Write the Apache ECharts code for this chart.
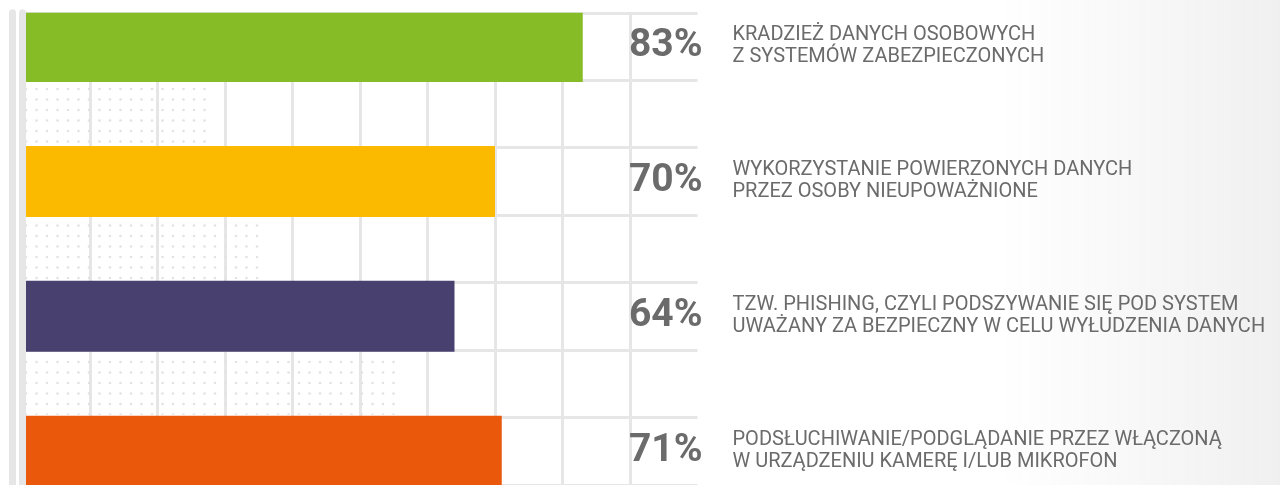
<!DOCTYPE html>
<html>
<head>
<meta charset="utf-8">
<script src="https://cdn.jsdelivr.net/npm/echarts@6/dist/echarts.min.js"></script>
<style>
html, body { margin: 0; padding: 0; background: #fff; }
#chart { width: 1280px; height: 485px; }
</style>
</head>
<body>
<div id="chart"></div>
<script>
// values
const descriptions = [
  'KRADZIEŻ DANYCH OSOBOWYCH\nZ SYSTEMÓW ZABEZPIECZONYCH',
  'WYKORZYSTANIE POWIERZONYCH DANYCH\nPRZEZ OSOBY NIEUPOWAŻNIONE',
  'TZW. PHISHING, CZYLI PODSZYWANIE SIĘ POD SYSTEM\nUWAŻANY ZA BEZPIECZNY W CELU WYŁUDZENIA DANYCH',
  'PODSŁUCHIWANIE/PODGLĄDANIE PRZEZ WŁĄCZONĄ\nW URZĄDZENIU KAMERĘ I/LUB MIKROFON'
]
const percents = [83, 70, 64, 71]
const barColors = ['#86bc25', '#fbba00', '#48416f', '#ea580c']
// dotted strips between the bars, same scale as the bars
const dotValues = [28, 35.5, 56]

// 7 rows: bar, gap, bar, gap, ...
const slots = []
const barData = []
const dotData = []
const pctLabels = []
const descLabels = []
percents.forEach((v, i) => {
  slots.push('b' + i)
  barData.push({ value: v, itemStyle: { color: barColors[i] } })
  dotData.push('-')
  pctLabels.push(v + '%')
  descLabels.push(descriptions[i])
  if (i < dotValues.length) {
    slots.push('g' + i)
    barData.push('-')
    dotData.push(dotValues[i])
    pctLabels.push('')
    descLabels.push('')
  }
})

// small dot pattern for the gap strips
const dotCanvas = document.createElement('canvas')
dotCanvas.width = 21
dotCanvas.height = 21
const ctx = dotCanvas.getContext('2d')
ctx.fillStyle = '#e2e2e2'
;[[5, 5], [15.5, 5], [5, 15.5], [15.5, 15.5]].forEach(([x, y]) => {
  ctx.beginPath()
  ctx.arc(x, y, 1.3, 0, Math.PI * 2)
  ctx.fill()
})

const gridGray = '#e6e6e6'
const textGray = '#6b6b6b'

function hiddenCat(extra) {
  return Object.assign({
    type: 'category',
    data: slots,
    inverse: true,
    axisLine: { show: false },
    axisTick: { show: false },
    axisLabel: { show: false },
    splitLine: { show: false },
  }, extra)
}

const chart = echarts.init(document.getElementById('chart'))
chart.setOption({
  animation: false,
  graphic: [{
    type: 'rect',
    silent: true,
    z: -10,
    shape: { x: 1000, y: 0, width: 280, height: 485 },
    style: {
      fill: new echarts.graphic.LinearGradient(0, 0, 1, 0, [
        { offset: 0, color: 'rgba(240,240,240,0)' },
        { offset: 1, color: '#f0f0f0' },
      ]),
    },
  }],
  grid: { left: 22.5, right: 582.5, top: 12.75, bottom: -2 },
  xAxis: {
    type: 'value',
    min: 0,
    max: 100,
    interval: 10,
    axisLine: { show: false },
    axisTick: { show: false },
    axisLabel: { show: false },
    splitLine: {
      show: true,
      showMinLine: false,
      showMaxLine: false,
      lineStyle: { color: gridGray, width: 3 },
    },
  },
  yAxis: [
    hiddenCat({
      splitLine: { show: true, interval: 0, lineStyle: { color: gridGray, width: 3 } },
    }),
    hiddenCat({
      position: 'left',
      offset: 0,
      z: 5,
      axisLine: { show: true, lineStyle: { color: gridGray, width: 7 } },
    }),
    hiddenCat({
      position: 'left',
      offset: 10,
      z: 5,
      axisLine: { show: true, lineStyle: { color: gridGray, width: 7 } },
    }),
    hiddenCat({
      position: 'right',
      data: pctLabels,
      axisLabel: {
        show: true,
        interval: 0,
        align: 'right',
        margin: 5,
        padding: [0, 0, 3, 0],
        fontFamily: 'Roboto',
        fontWeight: 'bold',
        fontSize: 39,
        color: textGray,
      },
    }),
    hiddenCat({
      position: 'right',
      data: descLabels,
      axisLabel: {
        show: true,
        interval: 0,
        align: 'left',
        margin: 35,
        fontFamily: 'Roboto',
        fontSize: 20,
        lineHeight: 22,
        color: textGray,
      },
    }),
  ],
  series: [
    {
      type: 'bar',
      yAxisIndex: 1,
      data: dotData,
      barWidth: 62,
      silent: true,
      itemStyle: { color: { image: dotCanvas, repeat: 'repeat' } },
    },
    {
      type: 'bar',
      yAxisIndex: 0,
      data: barData,
      barWidth: 71,
      silent: true,
    },
  ],
})
</script>
</body>
</html>
